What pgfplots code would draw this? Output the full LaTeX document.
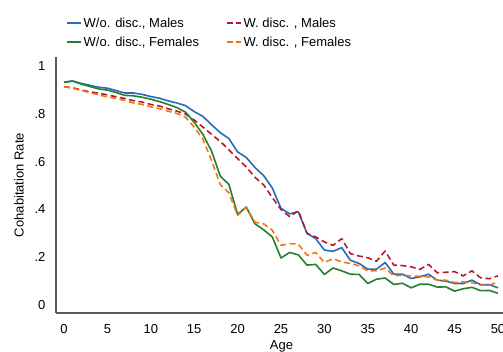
\documentclass[border=0pt]{standalone}
\usepackage{pgfplots}
\pgfplotsset{compat=1.18}
\usepackage{fontspec}
\setmainfont{Liberation Sans}
\definecolor{cblue}{RGB}{38,108,184}
\definecolor{cgreen}{RGB}{38,126,50}
\definecolor{cred}{RGB}{182,24,48}
\definecolor{corange}{RGB}{242,118,20}
\definecolor{axgray}{RGB}{90,90,90}
\newcommand{\fs}{\fontsize{13}{15.6}\selectfont}
\begin{document}
\begin{tikzpicture}
\useasboundingbox (0pt,0pt) rectangle (503pt,352pt);
\begin{axis}[
  at={(56pt,39pt)}, anchor=south west,
  scale only axis, width=451pt, height=256pt,
  xmin=-0.92, xmax=51.04, ymin=-0.0335, ymax=1.0387,
  axis lines=left, axis line style={axgray, line width=1.3pt, -},
  xtick={0,5,...,50}, ytick={0,0.2,0.4,0.6,0.8,1},
  yticklabels={0,.2,.4,.6,.8,1},
  major tick length=0pt,
  tick label style={font=\fs},
  /pgf/number format/assume math mode=true,
  xticklabel style={yshift=-8pt},
  yticklabel style={xshift=-7pt},
  xlabel={Age}, ylabel={Cohabitation Rate},
  label style={font=\fs},
  xlabel style={at={(axis description cs:0.5,-0.1316)}, anchor=center},
  ylabel style={at={(axis description cs:-0.082,0.5)}, anchor=center},
  legend style={at={(axis description cs:0.022,1.162)}, anchor=north west,
    draw=none, fill=none, font=\fs, inner sep=0pt,
    /tikz/every even column/.append style={column sep=25pt},
    row sep=4pt},
  legend columns=2, legend cell align=left,
  legend image code/.code={\draw[#1] (0pt,0pt) -- (14pt,0pt);},
  every axis plot/.append style={line width=1.6pt, line join=round},
  clip=false,
]
\addplot[cblue] coordinates {
(0,0.933)(1,0.938)(2,0.928)(3,0.920)(4,0.912)(5,0.908)(6,0.898)(7,0.888)(8,0.888)(9,0.882)
(10,0.873)(11,0.866)(12,0.855)(13,0.846)(14,0.835)(15,0.810)(16,0.790)(17,0.755)(18,0.722)(19,0.697)
(20,0.641)(21,0.618)(22,0.576)(23,0.542)(24,0.490)(25,0.405)(26,0.382)(27,0.390)(28,0.300)(29,0.278)
(30,0.230)(31,0.225)(32,0.240)(33,0.187)(34,0.174)(35,0.150)(36,0.150)(37,0.178)(38,0.129)(39,0.129)
(40,0.111)(41,0.118)(42,0.129)(43,0.104)(44,0.100)(45,0.090)(46,0.090)(47,0.104)(48,0.085)(49,0.085)(50,0.072)};
\addlegendentry{W/o. disc., Males}
\addplot[cred, dash pattern=on 6pt off 3.5pt] coordinates {
(0,0.914)(1,0.910)(2,0.900)(3,0.893)(4,0.887)(5,0.880)(6,0.872)(7,0.865)(8,0.856)(9,0.850)
(10,0.840)(11,0.833)(12,0.822)(13,0.812)(14,0.800)(15,0.775)(16,0.745)(17,0.715)(18,0.685)(19,0.650)
(20,0.613)(21,0.578)(22,0.535)(23,0.503)(24,0.450)(25,0.400)(26,0.370)(27,0.395)(28,0.300)(29,0.285)
(30,0.264)(31,0.250)(32,0.278)(33,0.215)(34,0.205)(35,0.198)(36,0.183)(37,0.226)(38,0.167)(39,0.165)
(40,0.160)(41,0.149)(42,0.170)(43,0.135)(44,0.137)(45,0.140)(46,0.122)(47,0.143)(48,0.114)(49,0.110)(50,0.122)};
\addlegendentry{W. disc. , Males}
\addplot[cgreen] coordinates {
(0,0.933)(1,0.938)(2,0.925)(3,0.915)(4,0.905)(5,0.900)(6,0.890)(7,0.878)(8,0.876)(9,0.870)
(10,0.862)(11,0.852)(12,0.840)(13,0.827)(14,0.808)(15,0.765)(16,0.715)(17,0.645)(18,0.540)(19,0.505)
(20,0.380)(21,0.410)(22,0.340)(23,0.315)(24,0.285)(25,0.197)(26,0.220)(27,0.210)(28,0.167)(29,0.170)
(30,0.128)(31,0.155)(32,0.143)(33,0.129)(34,0.128)(35,0.090)(36,0.108)(37,0.113)(38,0.086)(39,0.091)
(40,0.072)(41,0.087)(42,0.087)(43,0.075)(44,0.076)(45,0.058)(46,0.068)(47,0.074)(48,0.060)(49,0.061)(50,0.049)};
\addlegendentry{W/o. disc., Females}
\addplot[corange, dash pattern=on 6pt off 3.5pt] coordinates {
(0,0.914)(1,0.908)(2,0.898)(3,0.889)(4,0.880)(5,0.872)(6,0.865)(7,0.857)(8,0.846)(9,0.840)
(10,0.830)(11,0.822)(12,0.812)(13,0.802)(14,0.787)(15,0.745)(16,0.695)(17,0.605)(18,0.505)(19,0.470)
(20,0.375)(21,0.410)(22,0.347)(23,0.340)(24,0.313)(25,0.250)(26,0.257)(27,0.255)(28,0.208)(29,0.220)
(30,0.178)(31,0.194)(32,0.180)(33,0.174)(34,0.164)(35,0.143)(36,0.143)(37,0.155)(38,0.122)(39,0.125)
(40,0.122)(41,0.120)(42,0.118)(43,0.104)(44,0.104)(45,0.094)(46,0.097)(47,0.094)(48,0.083)(49,0.083)(50,0.097)};
\addlegendentry{W. disc. , Females}
\end{axis}
\end{tikzpicture}
\end{document}
